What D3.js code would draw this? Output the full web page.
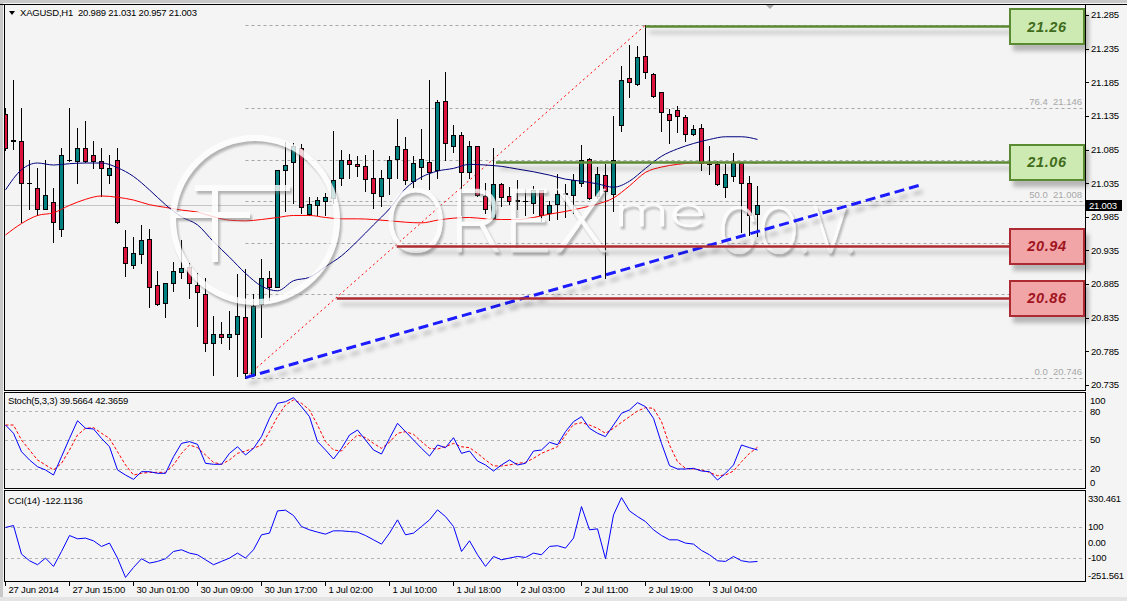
<!DOCTYPE html>
<html>
<head>
<meta charset="utf-8">
<script src="https://cdn.jsdelivr.net/npm/d3@7"></script>
<style>
  body { margin: 0; background: #f4f4f4; }
  svg { display: block; font-family: "Liberation Sans", Arial, sans-serif; }
</style>
</head>
<body>
<div id="viz"></div>
<script>

// access data (XAGUSD H1)

const open  = [21.138,21.099,21.098,21.036,21.028,20.997,21.007,20.967,21.069,21.068,21.088,21.077,21.068,21.047,21.069,20.940,20.914,20.929,20.952,20.883,20.857,20.886,20.903,20.911,20.883,20.871,20.797,20.811,20.807,20.811,20.836,20.750,20.856,20.894,20.881,21.055,21.067,21.088,20.989,21.002,21.008,21.013,21.043,21.069,21.064,21.060,21.043,21.016,21.043,21.071,21.086,21.038,21.059,21.066,21.055,21.157,21.090,21.107,21.051,21.090,21.016,20.983,21.034,21.016,21.009,21.009,21.006,21.025,20.991,21.004,21.019,21.018,21.036,21.071,21.016,21.047,21.019,21.122,21.191,21.182,21.224,21.197,21.170,21.138,21.144,21.133,21.108,21.117,21.064,21.063,21.030,21.045,21.065,21.035,20.989];
const high  = [21.147,21.188,21.147,21.069,21.058,21.069,21.028,21.088,21.147,21.117,21.128,21.098,21.088,21.077,21.088,20.965,20.955,20.973,20.967,20.904,20.887,20.918,20.950,20.917,20.901,20.894,20.837,20.828,20.845,20.900,20.907,20.871,20.922,20.905,21.055,21.096,21.094,21.093,21.015,21.014,21.021,21.112,21.085,21.079,21.075,21.077,21.084,21.055,21.076,21.130,21.104,21.075,21.115,21.188,21.158,21.200,21.122,21.111,21.097,21.091,21.035,21.087,21.035,21.029,21.040,21.026,21.031,21.025,21.009,21.049,21.034,21.049,21.092,21.072,21.059,21.064,21.135,21.209,21.240,21.239,21.270,21.199,21.170,21.145,21.149,21.136,21.122,21.123,21.090,21.068,21.063,21.080,21.065,21.046,21.031];
const low   = [21.085,21.086,20.977,20.997,20.987,20.996,20.947,20.957,21.068,21.036,21.067,21.058,21.016,21.036,20.976,20.897,20.909,20.917,20.851,20.854,20.836,20.875,20.894,20.864,20.823,20.785,20.750,20.797,20.788,20.748,20.746,20.749,20.807,20.862,20.880,20.993,21.006,20.991,20.987,20.987,20.987,21.005,21.033,21.043,21.046,21.024,20.998,21.001,21.019,21.043,21.034,21.029,21.041,21.027,21.043,21.069,21.082,20.987,21.042,21.016,20.991,20.982,21.001,21.004,20.997,20.987,20.991,20.979,20.980,20.982,20.984,20.991,21.031,21.012,21.013,20.894,20.993,21.112,21.163,21.181,21.191,21.163,21.113,21.094,21.111,21.097,21.106,21.055,21.048,21.033,21.014,21.038,20.963,20.958,20.957];
const close = [21.088,21.098,21.036,21.035,20.997,21.017,20.977,21.077,21.070,21.088,21.068,21.068,21.058,21.058,20.977,20.916,20.931,20.950,20.881,20.856,20.886,20.905,20.909,20.886,20.873,20.798,20.811,20.806,20.811,20.838,20.753,20.852,20.894,20.880,21.055,21.062,21.090,21.000,21.004,21.010,21.015,21.040,21.070,21.064,21.060,21.041,21.020,21.043,21.070,21.090,21.039,21.065,21.071,21.051,21.156,21.094,21.107,21.051,21.090,21.017,20.997,21.034,21.014,21.009,21.010,21.008,21.025,20.988,21.002,21.019,21.020,21.040,21.070,21.013,21.049,21.023,21.070,21.189,21.185,21.222,21.200,21.164,21.141,21.129,21.135,21.108,21.116,21.065,21.063,21.034,21.049,21.065,21.035,20.988,21.003];

// moving averages, read every second bar
const maBars   = d3.range(0, 95, 2);
const maBlue   = [21.025,21.055,21.065,21.062,21.064,21.065,21.065,21.058,21.045,21.025,21.003,20.985,20.973,20.948,20.925,20.901,20.882,20.875,20.890,20.895,20.911,20.927,20.949,20.973,20.997,21.027,21.044,21.053,21.057,21.063,21.062,21.060,21.056,21.052,21.047,21.041,21.038,21.034,21.029,21.038,21.057,21.075,21.086,21.094,21.100,21.104,21.104,21.100];
const maRed    = [20.958,20.975,20.987,20.991,21.002,21.011,21.016,21.014,21.010,21.003,20.999,20.995,20.992,20.985,20.980,20.979,20.981,20.984,20.987,20.987,20.984,20.982,20.982,20.981,20.979,20.977,20.976,20.980,20.983,20.984,20.982,20.981,20.981,20.984,20.989,20.993,20.998,21.004,21.013,21.031,21.051,21.059,21.063,21.065,21.065,21.066,21.066,21.065];

const stochMain   = [65.6,57,37.8,29.2,22.2,18.8,13.5,32.6,51.7,70.1,62.2,61.5,51.7,43,18.8,13.5,9,17,17,15.3,15.3,32.6,46.5,48.3,45.5,25.7,24.7,24.7,36.1,43,34.4,41.3,53.5,72.6,88.2,89.9,94.1,84.7,74.3,48.3,39.6,30.2,41.3,55.2,60.4,50,39.6,35.4,51.7,67.4,58.7,50,41.3,33.3,44.8,42,52.4,36.1,38.5,28.1,24,17.7,24,29.2,24,25.7,38.5,39.6,47.6,45,58.7,69.1,74.3,62.2,57,53.5,65.6,77.8,81.3,88.9,84.7,72.6,46.5,23.3,19.8,19.8,20.5,17.7,17,8.3,15.3,24,44.8,42,39.6];
const stochSignal = [65.6,65.6,50,39.6,29.2,24,18.8,25.7,39.6,55.2,62.2,62.9,57,51.7,37.8,24,13.5,15.3,16.3,16.3,16.3,24,36.1,44.8,42,34.4,26.7,24.7,29.2,36.1,38.5,41.3,44.8,58.7,74.3,86.5,91.7,88.2,81.3,65.6,48.3,39.6,38.5,47.6,55.2,52.4,46.5,41.3,47.6,57,58.7,55.9,48.3,41.3,40.6,43,46.5,43,42,36.1,29.2,23,23,24,25.7,26.7,30.9,36.1,39.6,43,55,66.3,68,65.6,62.2,57,62.2,68.4,74.3,80.2,83.7,83,69.1,44.8,27.4,20.5,19.8,18.8,16.3,12.8,13.5,17.7,27.4,36.1,42.4];
const cci         = [97.6,110.5,-74.4,-117.4,-143,-100,-154,-57.4,45.8,24.5,29,11.6,-25,-3.2,-100,-225,-160.6,-104.5,-132.5,-121.7,-104.5,-57.4,-46.5,-67.9,-78.7,-111,-143,-121.7,-100,-67.9,-100,-46.5,50.3,61.3,205,209.7,175,103.9,82.6,67.7,54.8,76,76,71.6,67.7,45.8,18,-9.7,61.3,147,50.3,61.3,103.9,147,211.6,168.4,103.9,-57.4,11.6,-78.7,-154,-89.7,-111,-100,-89.7,-96,-67.9,-78.7,-25,-20,-35.5,28.9,233,82.6,89,-104.5,179,291,205,168.4,136,82.6,45.8,18,18,-3.2,-9.7,-50.8,-78.7,-117.4,-121.7,-89.7,-117.4,-126,-122.1];

const priceTicks = ["21.285","21.235","21.185","21.135","21.085","21.035","20.985","20.935","20.885","20.835","20.785","20.735"];
const stochTicks = [100, 80, 50, 20, 0];
const stochGrid  = [80, 50, 20];
const cciTicks   = [330.461, 100, 0, -100, -251.561];
const cciTickLabels = ["330.461", "100", "0.00", "-100", "-251.561"];
const cciGrid    = [100, -100];
const timeBars   = [0, 8, 16, 24, 32, 40, 48, 56, 64, 72, 80, 88];
const timeLabels = ["27 Jun 2014","27 Jun 15:00","30 Jun 01:00","30 Jun 09:00","30 Jun 17:00","1 Jul 02:00","1 Jul 10:00","1 Jul 18:00","2 Jul 03:00","2 Jul 11:00","2 Jul 19:00","3 Jul 04:00"];

// drawn objects
const fibLow = 20.746, fibHigh = 21.270, fibLowBar = 30, fibHighBar = 80;
const fibLevels = [0, 23.6, 38.2, 50, 61.8, 76.4, 100];
const fibLabelLevels = [0, 50, 76.4];   // the others sit under the level boxes
const trendPoints = [[30, 20.746], [114.3, 21.032]];
const levelPrices = [21.268, 21.067, 20.942, 20.864];
const levelLabels = ["21.26", "21.06", "20.94", "20.86"];
const levelStartBars = [80, 61.3, 48.9, 41.4];
const levelKinds = ["res", "res", "sup", "sup"];
const bid = 21.003;

// create dimensions

const dms = {
  width: 1127, height: 601,
  left: 4.5, right: 1085.5,
  main:  { top: 4.5,   bottom: 390.5 },
  stoch: { top: 392.5, bottom: 488.5 },
  cci:   { top: 490.5, bottom: 581.5 }
};

// draw canvas

const svg = d3.select("#viz").append("svg")
  .attr("width", dms.width)
  .attr("height", dms.height);

svg.append("rect").attr("width", dms.width).attr("height", dms.height).attr("fill", "#f4f4f4");
svg.append("rect").attr("width", dms.width).attr("height", 3).attr("fill", "#c8c8c8");
svg.append("rect").attr("width", 3).attr("height", dms.height).attr("fill", "#c8c8c8");
svg.append("rect").attr("y", 597).attr("width", dms.width).attr("height", 4).attr("fill", "#e4e4e4");

const defs = svg.append("defs");
defs.append("clipPath").attr("id", "clipMain")
  .append("rect").attr("x", 5).attr("y", 5).attr("width", 1080).attr("height", 385);
defs.append("clipPath").attr("id", "clipSub")
  .append("rect").attr("x", 5).attr("y", 392).attr("width", 1080).attr("height", 190);
const shadow = defs.append("filter").attr("id", "shadow")
  .attr("filterUnits", "userSpaceOnUse")
  .attr("x", 0).attr("y", 0).attr("width", dms.width).attr("height", dms.height);
shadow.append("feDropShadow")
  .attr("dx", 4).attr("dy", 6).attr("stdDeviation", 2)
  .attr("flood-color", "#000").attr("flood-opacity", 0.25);
const emboss = defs.append("filter").attr("id", "emboss")
  .attr("filterUnits", "userSpaceOnUse")
  .attr("x", 0).attr("y", 0).attr("width", dms.width).attr("height", dms.height);
emboss.append("feDropShadow")
  .attr("dx", 2).attr("dy", 3).attr("stdDeviation", 1.2)
  .attr("flood-color", "#707070").attr("flood-opacity", 0.6);

// create scales

const x = d3.scaleLinear().domain([0, 94]).range([5.5, 757.5]);
const y = d3.scaleLinear().domain([20.735, 21.285]).range([385, 15]);
const yStoch = d3.scaleLinear().domain([0, 100]).range([488, 392]);
const yCci = d3.scaleLinear().domain([-251.561, 330.461]).range([581.5, 491.5]);

const main = svg.append("g").attr("clip-path", "url(#clipMain)");

// fibonacci retracement

const fibPrice = l => fibLow + (fibHigh - fibLow) * l / 100;

main.selectAll("line.fib").data(fibLevels).join("line")
  .attr("class", "fib")
  .attr("x1", x(fibLowBar)).attr("x2", 1083)
  .attr("y1", l => Math.round(y(fibPrice(l))) + 0.5)
  .attr("y2", l => Math.round(y(fibPrice(l))) + 0.5)
  .attr("stroke", "#a8a8a8").attr("stroke-dasharray", "3,3");

main.selectAll("text.fib").data(fibLabelLevels).join("text")
  .attr("class", "fib")
  .attr("x", 1082).attr("y", l => y(fibPrice(l)) - 3)
  .attr("text-anchor", "end").attr("font-size", 9.5).attr("fill", "#a8a8a8")
  .text(l => `${l.toFixed(1)}\u00a0\u00a0${fibPrice(l).toFixed(3)}`);

main.append("line")
  .attr("x1", x(fibLowBar)).attr("y1", y(fibLow))
  .attr("x2", x(fibHighBar)).attr("y2", y(fibHigh))
  .attr("stroke", "#ff0000").attr("stroke-dasharray", "2,3");

// bid line

main.append("line")
  .attr("x1", 4).attr("x2", 1085)
  .attr("y1", Math.round(y(bid)) + 0.5).attr("y2", Math.round(y(bid)) + 0.5)
  .attr("stroke", "#c4c4c4");

// draw data: candles

const candles = open.map((o, i) => ({ i, o, h: high[i], l: low[i], c: close[i] }));
const cg = main.append("g");

cg.selectAll("line.wick").data(candles).join("line")
  .attr("class", "wick")
  .attr("x1", d => x(d.i)).attr("x2", d => x(d.i))
  .attr("y1", d => Math.round(y(d.h))).attr("y2", d => Math.round(y(d.l)) + 1)
  .attr("stroke", "#000");

const bodyTop = d => Math.round(y(Math.max(d.o, d.c))) + 0.5;
const bodyH = d => Math.round(y(Math.min(d.o, d.c))) - Math.round(y(Math.max(d.o, d.c)));

cg.selectAll("rect.body").data(candles.filter(d => bodyH(d) >= 1)).join("rect")
  .attr("class", "body")
  .attr("x", d => x(d.i) - 2).attr("width", 4)
  .attr("y", bodyTop).attr("height", bodyH)
  .attr("fill", d => d.c >= d.o ? "#008080" : "#dc143c")
  .attr("stroke", "#000");

cg.selectAll("line.doji").data(candles.filter(d => bodyH(d) < 1)).join("line")
  .attr("class", "doji")
  .attr("x1", d => x(d.i) - 2.5).attr("x2", d => x(d.i) + 2.5)
  .attr("y1", bodyTop).attr("y2", bodyTop)
  .attr("stroke", "#000");

// moving averages

const maLine = d3.line().x((d, i) => x(maBars[i])).y(d => y(d)).curve(d3.curveMonotoneX);
main.append("path").attr("d", maLine(maRed)).attr("fill", "none").attr("stroke", "#ff0000");
main.append("path").attr("d", maLine(maBlue)).attr("fill", "none").attr("stroke", "#000080");

// watermark (embossed logo)

const wm = main.append("g")
  .attr("filter", "url(#emboss)")
  .attr("stroke", "#ffffff").attr("fill", "#ffffff").attr("opacity", 0.8)
  .attr("font-family", "Inter, 'Liberation Sans', sans-serif").attr("font-weight", 200);
wm.append("circle").attr("cx", 255).attr("cy", 220).attr("r", 82)
  .attr("fill", "none").attr("stroke-width", 6);
wm.append("path").attr("d", "M195,188 H290 M172,215 H250 M215,188 V262")
  .attr("fill", "none").attr("stroke-width", 6);
wm.append("text").attr("x", 383).attr("y", 252).attr("font-size", 86).attr("stroke-width", 0.6)
  .attr("textLength", 226).attr("lengthAdjust", "spacingAndGlyphs").text("OREX");
wm.append("text").attr("x", 614).attr("y", 226).attr("font-size", 40).attr("stroke-width", 0.6)
  .attr("textLength", 92).attr("lengthAdjust", "spacingAndGlyphs").text("me");
wm.append("text").attr("x", 718).attr("y", 253).attr("font-size", 64).attr("stroke-width", 0.6)
  .attr("textLength", 140).attr("lengthAdjust", "spacingAndGlyphs").text("CO.V.");

// trend line

main.append("path")
  .attr("d", d3.line().x(d => x(d[0])).y(d => y(d[1]))(trendPoints))
  .attr("fill", "none").attr("stroke", "#1a1aff").attr("stroke-width", 3)
  .attr("stroke-dasharray", "10,5").attr("filter", "url(#shadow)");

// support / resistance levels

const levels = levelPrices.map((p, i) => ({ p, label: levelLabels[i], start: levelStartBars[i], kind: levelKinds[i] }));
const style = {
  res: { line: "#5a8a32", fill: "#cdeab2", text: "#3f6c1c" },
  sup: { line: "#ad2b33", fill: "#f2a5a7", text: "#a0141e" }
};

const lg = svg.append("g").attr("filter", "url(#shadow)");
lg.selectAll("line").data(levels).join("line")
  .attr("x1", d => x(d.start)).attr("x2", 1010)
  .attr("y1", d => Math.round(y(d.p)) + 0.5).attr("y2", d => Math.round(y(d.p)) + 0.5)
  .attr("stroke", d => style[d.kind].line).attr("stroke-width", 2.5);

lg.selectAll("rect").data(levels).join("rect")
  .attr("x", 1010).attr("width", 74)
  .attr("y", d => Math.round(y(d.p)) - 17).attr("height", 35)
  .attr("fill", d => style[d.kind].fill)
  .attr("stroke", d => style[d.kind].line).attr("stroke-width", 2);

svg.selectAll("text.level").data(levels).join("text")
  .attr("class", "level")
  .attr("x", 1047).attr("y", d => y(d.p)).attr("dy", "0.36em")
  .attr("text-anchor", "middle")
  .attr("font-size", 14.5).attr("font-weight", "bold").attr("font-style", "italic")
  .attr("letter-spacing", 0.6)
  .attr("fill", d => style[d.kind].text)
  .text(d => d.label);

// indicator panes

const sub = svg.append("g").attr("clip-path", "url(#clipSub)");

sub.selectAll("line.sgrid").data(stochGrid).join("line")
  .attr("class", "sgrid")
  .attr("x1", 5).attr("x2", 1085)
  .attr("y1", d => Math.round(yStoch(d)) + 0.5).attr("y2", d => Math.round(yStoch(d)) + 0.5)
  .attr("stroke", "#b4b4b4").attr("stroke-dasharray", "3,3");

sub.selectAll("line.cgrid").data(cciGrid).join("line")
  .attr("class", "cgrid")
  .attr("x1", 5).attr("x2", 1085)
  .attr("y1", d => Math.round(yCci(d)) + 0.5).attr("y2", d => Math.round(yCci(d)) + 0.5)
  .attr("stroke", "#b4b4b4").attr("stroke-dasharray", "3,3");

sub.append("path")
  .attr("d", d3.line().x((d, i) => x(i)).y(d => yStoch(d))(stochSignal))
  .attr("fill", "none").attr("stroke", "#ff0000").attr("stroke-dasharray", "3,2");
sub.append("path")
  .attr("d", d3.line().x((d, i) => x(i)).y(d => yStoch(d))(stochMain))
  .attr("fill", "none").attr("stroke", "#0000ff");
sub.append("path")
  .attr("d", d3.line().x((d, i) => x(i)).y(d => yCci(d))(cci))
  .attr("fill", "none").attr("stroke", "#0000ff");

// draw peripherals: frames

const frames = [dms.main, dms.stoch, dms.cci];
svg.selectAll("rect.frame").data(frames).join("rect")
  .attr("class", "frame")
  .attr("x", dms.left).attr("y", d => d.top)
  .attr("width", dms.right - dms.left).attr("height", d => d.bottom - d.top)
  .attr("fill", "none").attr("stroke", "#000");
svg.append("line").attr("x1", 0).attr("x2", dms.width).attr("y1", 4.5).attr("y2", 4.5).attr("stroke", "#000");

// chart shift marker
svg.append("path").attr("d", "M766,5 L774,5 L770,9 Z").attr("fill", "#a8a8a8");

// price axis

const axisText = (sel) => sel.attr("font-size", 9.5).attr("fill", "#000")
  .attr("letter-spacing", -0.2).attr("dy", "0.35em");

svg.selectAll("line.ptick").data(priceTicks).join("line")
  .attr("class", "ptick")
  .attr("x1", 1085).attr("x2", 1089)
  .attr("y1", d => Math.round(y(+d)) + 0.5).attr("y2", d => Math.round(y(+d)) + 0.5)
  .attr("stroke", "#000");
svg.selectAll("text.ptick").data(priceTicks).join("text")
  .attr("class", "ptick")
  .attr("x", 1091).attr("y", d => y(+d))
  .call(axisText)
  .text(d => d);

svg.append("rect").attr("x", 1086).attr("y", Math.round(y(bid)) - 5).attr("width", 36).attr("height", 11).attr("fill", "#000");
svg.append("text").attr("x", 1089).attr("y", y(bid) + 0.5)
  .call(axisText).attr("fill", "#fff").text(bid.toFixed(3));

const clampY = (v, top, bottom) => Math.max(top + 8, Math.min(bottom - 6, v));

svg.selectAll("text.stick").data(stochTicks).join("text")
  .attr("class", "stick")
  .attr("x", 1090).attr("y", d => clampY(yStoch(d), dms.stoch.top, dms.stoch.bottom))
  .call(axisText).text(d => d);

svg.selectAll("text.ctick").data(cciTicks).join("text")
  .attr("class", "ctick")
  .attr("x", 1088).attr("y", d => clampY(yCci(d), dms.cci.top, dms.cci.bottom))
  .call(axisText).text((d, i) => cciTickLabels[i]);

// time axis

svg.selectAll("line.ttick").data(timeBars).join("line")
  .attr("class", "ttick")
  .attr("x1", d => x(d)).attr("x2", d => x(d))
  .attr("y1", 582).attr("y2", 586)
  .attr("stroke", "#000");
svg.selectAll("text.ttick").data(timeBars).join("text")
  .attr("class", "ttick")
  .attr("x", d => x(d) + 3).attr("y", 590)
  .call(axisText).text((d, i) => timeLabels[i]);

// titles

svg.append("path").attr("d", "M9,11 L15,11 L12,15 Z").attr("fill", "#000");
svg.append("text").attr("x", 20).attr("y", 13).call(axisText)
  .text("XAGUSD,H1\u00a0\u00a0" + [open[94], high[94], low[94], close[94]].map(v => v.toFixed(3)).join(" "));
svg.append("text").attr("x", 8).attr("y", 401).call(axisText)
  .text(`Stoch(5,3,3) 39.5664 42.3659`);
svg.append("text").attr("x", 8).attr("y", 501).call(axisText)
  .text(`CCI(14) -122.1136`);

</script>
</body>
</html>
